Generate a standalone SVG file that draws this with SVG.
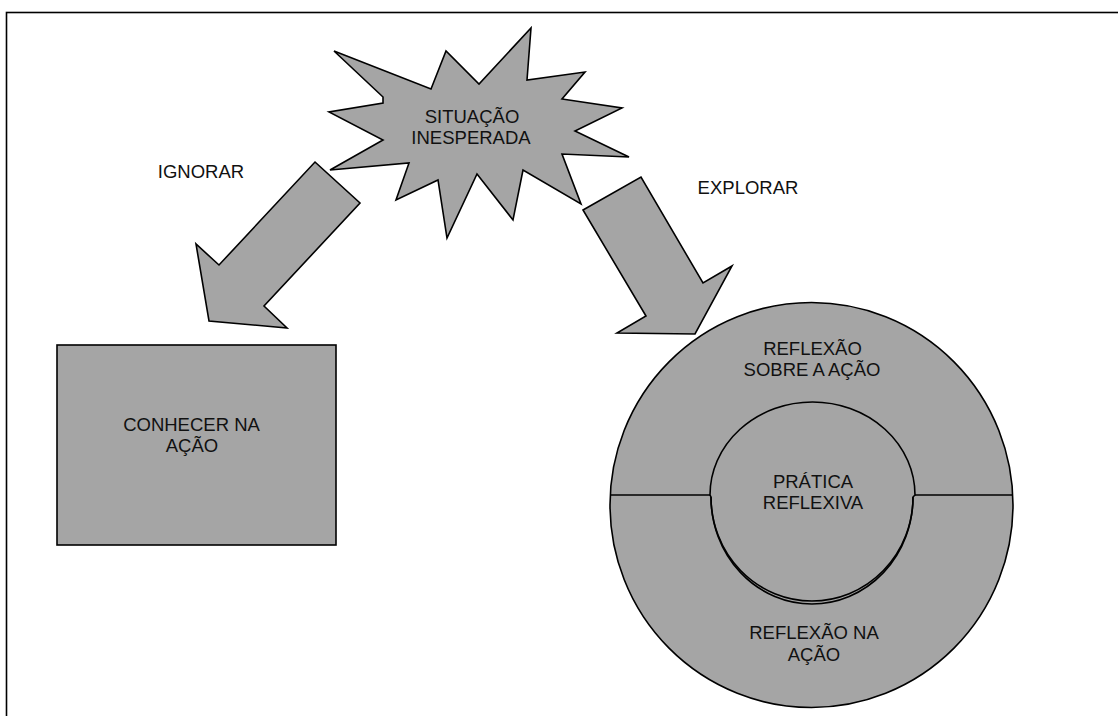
<svg xmlns="http://www.w3.org/2000/svg" width="1118" height="716" viewBox="0 0 1118 716">
<style>
.s{fill:#a5a5a5;stroke:#000;stroke-width:1.6;stroke-linejoin:miter}
.ln{fill:none;stroke:#000;stroke-width:1.6}
text{font-family:"Liberation Sans",Arial,sans-serif;font-size:18.5px;fill:#111;text-anchor:middle}
</style>
<rect x="6.5" y="12.5" width="1200" height="800" fill="#fff" stroke="#000" stroke-width="1.6"/>
<g id="situacao">
<polygon class="s" points="334,51 431,89 446,51 479,84 531,28 527,80 585,72 562,99 622,108 575,131 629,157 562,154 581,204 523,170 513,220 477,174 447,238 438,180 396,200 409,163 330,170 383,140 329,112 383,103 383,97"/>
<text x="472" y="123">SITUAÇÃO</text>
<text x="471" y="144">INESPERADA</text>
</g>
<g id="connectors">
<polygon class="s" points="315,162 360,203 264,306 287,328 209,321 196,244 219,265"/>
<polygon class="s" points="583,210 641,177 703,283 732,266 695,334 617,333 646,316"/>
<text x="201" y="178">IGNORAR</text>
<text x="748" y="194">EXPLORAR</text>
</g>
<g id="conhecer">
<rect class="s" x="57" y="345" width="279" height="200"/>
<text x="191.5" y="431">CONHECER NA</text>
<text x="192" y="452">AÇÃO</text>
</g>
<g id="reflexao">
<ellipse class="s" cx="811.5" cy="505" rx="201.5" ry="202.5"/>
<path class="ln" d="M610,495 H710 M913,495 H1013"/>
<path class="s" d="M710,495 A102.5,93 0 0 1 915,495 L913,497 A101,104 0 0 1 711,497 Z"/>
<path class="ln" d="M711,497 A101,107 0 0 0 913,497" stroke-width="1.2"/>
<text x="812.5" y="355">REFLEXÃO</text>
<text x="812" y="376">SOBRE A AÇÃO</text>
<text x="813" y="488">PRÁTICA</text>
<text x="813" y="509">REFLEXIVA</text>
<text x="814" y="639">REFLEXÃO NA</text>
<text x="814" y="661">AÇÃO</text>
</g>
</svg>
